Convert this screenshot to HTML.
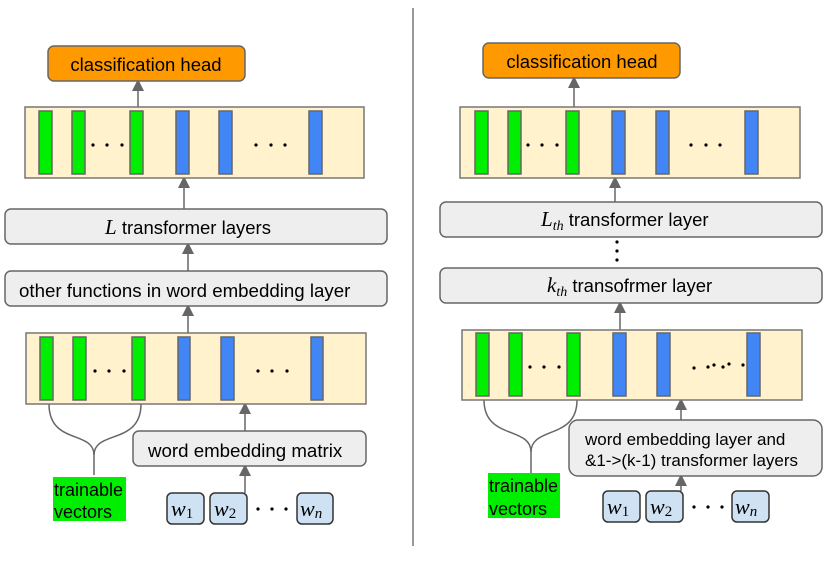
<!DOCTYPE html>
<html><head><meta charset="utf-8"><style>
html,body{margin:0;padding:0;background:#fff;}
svg{display:block;}
text{font-family:"Liberation Sans",sans-serif;fill:#000;}
.m{font-family:"Liberation Serif",serif;font-style:italic;}
</style></head><body>
<svg width="830" height="563" viewBox="0 0 830 563" xmlns="http://www.w3.org/2000/svg">
<defs><marker id="a" markerWidth="8" markerHeight="8" refX="4" refY="4" orient="auto"><path d="M0,0 L8,4 L0,8 z" fill="#666"/></marker></defs>
<line x1="413" y1="8" x2="413" y2="546" stroke="#999" stroke-width="2"/>
<g stroke="#666" stroke-width="1.5" fill="none">
<line x1="138" y1="107" x2="138" y2="85" marker-end="url(#a)"/>
<line x1="184" y1="209" x2="184" y2="182" marker-end="url(#a)"/>
<line x1="188" y1="271" x2="188" y2="248" marker-end="url(#a)"/>
<line x1="188" y1="333" x2="188" y2="310" marker-end="url(#a)"/>
<line x1="245" y1="431" x2="245" y2="408" marker-end="url(#a)"/>
<line x1="245" y1="493" x2="245" y2="470" marker-end="url(#a)"/>
<line x1="574" y1="107" x2="574" y2="82" marker-end="url(#a)"/>
<line x1="615" y1="202" x2="615" y2="182" marker-end="url(#a)"/>
<line x1="620" y1="330" x2="620" y2="307" marker-end="url(#a)"/>
<line x1="681" y1="420" x2="681" y2="404" marker-end="url(#a)"/>
<line x1="681" y1="491" x2="681" y2="480" marker-end="url(#a)"/>
<path d="M49,404 C49,445 94,430 94,455 L94,475"/>
<path d="M141,404 C141,445 94,430 94,455"/>
<path d="M484,400 C484,440 531,426 531,452 L531,473"/>
<path d="M577,400 C577,440 531,426 531,452"/>
</g>
<!-- Left -->
<rect x="48" y="46" width="197" height="35" rx="6" fill="#ff9900" stroke="#666" stroke-width="1.5"/>
<text x="146" y="71" font-size="18.5" text-anchor="middle">classification head</text>
<rect x="25" y="107" width="339" height="71" fill="#fff2cc" stroke="#777" stroke-width="1.5"/>
<g stroke="#666" stroke-width="1.5">
<rect x="39" y="111" width="13" height="63" fill="#00ee00"/><rect x="72" y="111" width="13" height="63" fill="#00ee00"/><rect x="130" y="111" width="13" height="63" fill="#00ee00"/>
<rect x="176" y="111" width="13" height="63" fill="#4285f4"/><rect x="219" y="111" width="13" height="63" fill="#4285f4"/><rect x="309" y="111" width="13" height="63" fill="#4285f4"/>
</g>
<g fill="#000"><circle cx="93" cy="145" r="1.6"/><circle cx="107" cy="145" r="1.6"/><circle cx="122" cy="145" r="1.6"/><circle cx="256" cy="145" r="1.6"/><circle cx="271" cy="145" r="1.6"/><circle cx="285" cy="145" r="1.6"/></g>
<rect x="5" y="209" width="382" height="35" rx="6" fill="#eeeeee" stroke="#666" stroke-width="1.5"/>
<text x="188" y="234" font-size="18.5" text-anchor="middle"><tspan class="m" font-size="21">L</tspan> transformer layers</text>
<rect x="5" y="271" width="382" height="35" rx="6" fill="#eeeeee" stroke="#666" stroke-width="1.5"/>
<text x="19" y="297" font-size="18.7">other functions in word embedding layer</text>
<rect x="26" y="333" width="340" height="71" fill="#fff2cc" stroke="#777" stroke-width="1.5"/>
<g stroke="#666" stroke-width="1.5">
<rect x="40" y="337" width="13" height="63" fill="#00ee00"/><rect x="73" y="337" width="13" height="63" fill="#00ee00"/><rect x="132" y="337" width="13" height="63" fill="#00ee00"/>
<rect x="178" y="337" width="12" height="63" fill="#4285f4"/><rect x="221" y="337" width="13" height="63" fill="#4285f4"/><rect x="311" y="337" width="12" height="63" fill="#4285f4"/>
</g>
<g fill="#000"><circle cx="95" cy="371" r="1.6"/><circle cx="109" cy="371" r="1.6"/><circle cx="124" cy="371" r="1.6"/><circle cx="258" cy="371" r="1.6"/><circle cx="272" cy="371" r="1.6"/><circle cx="287" cy="371" r="1.6"/></g>
<rect x="133" y="431" width="233" height="35" rx="6" fill="#eeeeee" stroke="#666" stroke-width="1.5"/>
<text x="148" y="457" font-size="18.7">word embedding matrix</text>
<rect x="53" y="477" width="73" height="44" fill="#00ee00"/>
<text x="54" y="496" font-size="18">trainable</text><text x="54" y="518" font-size="18">vectors</text>
<g stroke="#333" stroke-width="1.5" fill="#cfe2f3">
<rect x="167" y="493" width="37" height="31" rx="5"/><rect x="210" y="493" width="37" height="31" rx="5"/><rect x="297" y="493" width="36" height="31" rx="5"/>
</g>
<text x="171" y="516" class="m" font-size="22">w<tspan font-size="15" font-style="normal" dy="2">1</tspan></text>
<text x="214" y="516" class="m" font-size="22">w<tspan font-size="15" font-style="normal" dy="2">2</tspan></text>
<text x="300" y="516" class="m" font-size="22">w<tspan font-size="15" dy="2">n</tspan></text>
<g fill="#000"><circle cx="258" cy="509" r="1.6"/><circle cx="272" cy="509" r="1.6"/><circle cx="286" cy="509" r="1.6"/></g>
<!-- Right -->
<rect x="483" y="43" width="197" height="35" rx="6" fill="#ff9900" stroke="#666" stroke-width="1.5"/>
<text x="582" y="68" font-size="18.5" text-anchor="middle">classification head</text>
<rect x="460" y="107" width="340" height="71" fill="#fff2cc" stroke="#777" stroke-width="1.5"/>
<g stroke="#666" stroke-width="1.5">
<rect x="475" y="111" width="13" height="63" fill="#00ee00"/><rect x="508" y="111" width="13" height="63" fill="#00ee00"/><rect x="566" y="111" width="13" height="63" fill="#00ee00"/>
<rect x="612" y="111" width="13" height="63" fill="#4285f4"/><rect x="656" y="111" width="13" height="63" fill="#4285f4"/><rect x="745" y="111" width="13" height="63" fill="#4285f4"/>
</g>
<g fill="#000"><circle cx="528" cy="145" r="1.6"/><circle cx="542" cy="145" r="1.6"/><circle cx="557" cy="145" r="1.6"/><circle cx="691" cy="145" r="1.6"/><circle cx="706" cy="145" r="1.6"/><circle cx="720" cy="145" r="1.6"/></g>
<rect x="440" y="202" width="382" height="35" rx="6" fill="#eeeeee" stroke="#666" stroke-width="1.5"/>
<text x="541" y="226" font-size="18.5"><tspan class="m" font-size="21">L</tspan><tspan class="m" font-size="14" dy="4">th</tspan><tspan dy="-4"> transformer layer</tspan></text>
<g fill="#000"><circle cx="617" cy="242" r="1.6"/><circle cx="617" cy="251" r="1.6"/><circle cx="617" cy="260" r="1.6"/></g>
<rect x="440" y="268" width="382" height="35" rx="6" fill="#eeeeee" stroke="#666" stroke-width="1.5"/>
<text x="547" y="292" font-size="18.5"><tspan class="m" font-size="21">k</tspan><tspan class="m" font-size="14" dy="4">th</tspan><tspan dy="-4"> transofrmer layer</tspan></text>
<rect x="462" y="330" width="340" height="70" fill="#fff2cc" stroke="#777" stroke-width="1.5"/>
<g stroke="#666" stroke-width="1.5">
<rect x="476" y="333" width="13" height="63" fill="#00ee00"/><rect x="509" y="333" width="13" height="63" fill="#00ee00"/><rect x="567" y="333" width="13" height="63" fill="#00ee00"/>
<rect x="613" y="333" width="13" height="63" fill="#4285f4"/><rect x="657" y="333" width="13" height="63" fill="#4285f4"/><rect x="747" y="333" width="13" height="63" fill="#4285f4"/>
</g>
<g fill="#000"><circle cx="530" cy="367" r="1.6"/><circle cx="544" cy="367" r="1.6"/><circle cx="559" cy="367" r="1.6"/>
<circle cx="694" cy="368" r="1.6"/><circle cx="708" cy="367" r="1.6"/><circle cx="714" cy="365" r="1.6"/><circle cx="723" cy="367" r="1.6"/><circle cx="729" cy="364" r="1.6"/><circle cx="743" cy="365" r="1.6"/></g>
<rect x="569" y="420" width="253" height="56" rx="9" fill="#eeeeee" stroke="#666" stroke-width="1.5"/>
<text x="585" y="445" font-size="17">word embedding layer and</text>
<text x="585" y="466" font-size="17">&amp;1-&gt;(k-1) transformer layers</text>
<rect x="488" y="473" width="72" height="45" fill="#00ee00"/>
<text x="489" y="492" font-size="18">trainable</text><text x="489" y="515" font-size="18">vectors</text>
<g stroke="#333" stroke-width="1.5" fill="#cfe2f3">
<rect x="603" y="491" width="37" height="31" rx="5"/><rect x="646" y="491" width="37" height="31" rx="5"/><rect x="732" y="491" width="37" height="31" rx="5"/>
</g>
<text x="607" y="514" class="m" font-size="22">w<tspan font-size="15" font-style="normal" dy="2">1</tspan></text>
<text x="650" y="514" class="m" font-size="22">w<tspan font-size="15" font-style="normal" dy="2">2</tspan></text>
<text x="735" y="514" class="m" font-size="22">w<tspan font-size="15" dy="2">n</tspan></text>
<g fill="#000"><circle cx="694" cy="507" r="1.6"/><circle cx="708" cy="507" r="1.6"/><circle cx="722" cy="507" r="1.6"/></g>
</svg>
</body></html>
